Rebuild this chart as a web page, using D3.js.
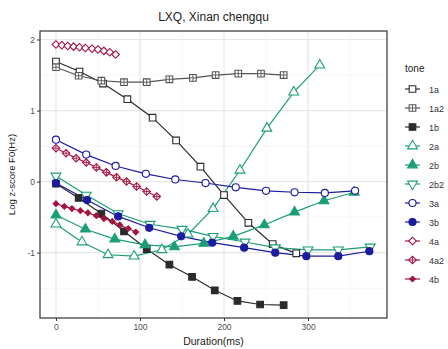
<!DOCTYPE html>
<html>
<head>
<meta charset="utf-8">
<script src="https://cdn.jsdelivr.net/npm/d3@7"></script>
<style>
  body { margin: 0; background: #fff; }
  text { font-family: "Liberation Sans", Arial, sans-serif; }
</style>
</head>
<body>
<div id="chart"></div>
<script>
// chart data
var tones = ['1a', '1a2', '1b', '2a', '2b', '2b2', '3a', '3b', '4a', '4a2', '4b'];

var dur1a  = [0, 28, 56, 85, 115, 143, 172, 200, 229, 258, 286];
var f01a   = [1.69, 1.55, 1.38, 1.16, 0.90, 0.58, 0.21, -0.19, -0.58, -0.88, -1.01];
var dur1a2 = [0, 27, 54, 81, 108, 135, 163, 190, 217, 244, 271];
var f01a2  = [1.61, 1.49, 1.42, 1.40, 1.40, 1.44, 1.46, 1.50, 1.52, 1.52, 1.50];
var dur1b  = [0, 27, 54, 81, 108, 135, 162, 189, 216, 243, 271];
var f01b   = [-0.03, -0.23, -0.45, -0.70, -0.95, -1.17, -1.34, -1.53, -1.68, -1.73, -1.74];
var dur2a  = [0, 31, 62, 93, 126, 157, 187, 219, 251, 283, 314];
var f02a   = [-0.60, -0.85, -1.03, -1.05, -0.96, -0.74, -0.38, 0.16, 0.75, 1.26, 1.64];
var dur2b  = [0, 35, 70, 106, 141, 176, 211, 248, 284, 319, 355];
var f02b   = [-0.47, -0.67, -0.81, -0.89, -0.92, -0.87, -0.77, -0.61, -0.43, -0.27, -0.15];
var dur2b2 = [0, 36, 74, 112, 150, 187, 225, 261, 300, 336, 374];
var f02b2  = [0.08, -0.19, -0.45, -0.60, -0.67, -0.77, -0.85, -0.93, -0.96, -0.96, -0.92];
var dur3a  = [0, 36, 71, 107, 142, 178, 214, 250, 284, 320, 356];
var f03a   = [0.59, 0.38, 0.22, 0.11, 0.03, -0.02, -0.08, -0.13, -0.15, -0.16, -0.13];
var dur3b  = [0, 37, 74, 111, 149, 186, 224, 261, 298, 336, 373];
var f03b   = [-0.02, -0.26, -0.49, -0.65, -0.77, -0.86, -0.93, -1.00, -1.05, -1.05, -0.98];
var dur4a  = [0, 7, 14, 21, 28, 35, 43, 50, 57, 64, 71];
var f04a   = [1.93, 1.92, 1.91, 1.90, 1.89, 1.88, 1.87, 1.86, 1.84, 1.82, 1.79];
var dur4a2 = [0, 12, 24, 36, 48, 60, 72, 84, 96, 108, 120];
var f04a2  = [0.47, 0.40, 0.33, 0.27, 0.20, 0.13, 0.06, 0.00, -0.07, -0.14, -0.21];
var dur4b  = [0, 10, 19, 29, 38, 48, 57, 67, 76, 86, 95];
var f04b   = [-0.31, -0.35, -0.38, -0.41, -0.44, -0.48, -0.52, -0.56, -0.61, -0.66, -0.71];

var xTicks = [0, 100, 200, 300];
var yTicks = [-1, 0, 1, 2];

// styling per tone
var black = '#2b2b2b', grey = '#555555', green = '#1b9e77', blue = '#1c1ca0', red = '#a3143f';
var style = {
  '1a':  {color: black, shape: 'square', fill: false},
  '1a2': {color: grey,  shape: 'squareplus', fill: false},
  '1b':  {color: black, shape: 'square', fill: true},
  '2a':  {color: green, shape: 'triangle', fill: false},
  '2b':  {color: green, shape: 'triangle', fill: true},
  '2b2': {color: green, shape: 'triangledown', fill: false},
  '3a':  {color: blue,  shape: 'circle', fill: false},
  '3b':  {color: blue,  shape: 'circle', fill: true},
  '4a':  {color: red,   shape: 'diamond', fill: false},
  '4a2': {color: red,   shape: 'diamondplus', fill: false},
  '4b':  {color: red,   shape: 'diamondsmall', fill: true}
};
var durs = [dur1a, dur1a2, dur1b, dur2a, dur2b, dur2b2, dur3a, dur3b, dur4a, dur4a2, dur4b];
var f0s  = [f01a, f01a2, f01b, f02a, f02b, f02b2, f03a, f03b, f04a, f04a2, f04b];

var series = tones.map(function(t, i){
  return {tone: t, pts: durs[i].map(function(d, j){ return {x: d, y: f0s[i][j]}; })};
});

// layout (panel edges)
var width = 448, height = 349;
var panelL = 40, panelR = 387, panelT = 31, panelB = 318;

var x = d3.scaleLinear().domain([-19, 394]).range([panelL, panelR]);
var y = d3.scaleLinear().domain([-1.92, 2.12]).range([panelB, panelT]);

var svg = d3.select('#chart').append('svg')
    .attr('width', width)
    .attr('height', height);

// grid
var grid = svg.append('g');
grid.selectAll('.minx').data([50, 150, 250, 350]).enter().append('line')
    .attr('x1', function(d){ return x(d); }).attr('x2', function(d){ return x(d); })
    .attr('y1', panelT).attr('y2', panelB)
    .attr('stroke', '#f2f2f2').attr('stroke-width', 0.7);
grid.selectAll('.miny').data([-1.5, -0.5, 0.5, 1.5]).enter().append('line')
    .attr('y1', function(d){ return y(d); }).attr('y2', function(d){ return y(d); })
    .attr('x1', panelL).attr('x2', panelR)
    .attr('stroke', '#f2f2f2').attr('stroke-width', 0.7);
grid.selectAll('.majx').data(xTicks).enter().append('line')
    .attr('x1', function(d){ return x(d); }).attr('x2', function(d){ return x(d); })
    .attr('y1', panelT).attr('y2', panelB)
    .attr('stroke', '#e6e6e6').attr('stroke-width', 1.2);
grid.selectAll('.majy').data(yTicks).enter().append('line')
    .attr('y1', function(d){ return y(d); }).attr('y2', function(d){ return y(d); })
    .attr('x1', panelL).attr('x2', panelR)
    .attr('stroke', '#e6e6e6').attr('stroke-width', 1.2);

// axes
var xAxis = d3.axisBottom(x).tickValues(xTicks).tickSize(3).tickPadding(3)
    .tickFormat(function(d){ return String(d); });
var yAxis = d3.axisLeft(y).tickValues(yTicks).tickSize(3).tickPadding(2)
    .tickFormat(function(d){ return String(d); });

var gx = svg.append('g').attr('transform', 'translate(0,' + panelB + ')').call(xAxis);
var gy = svg.append('g').attr('transform', 'translate(' + panelL + ',0)').call(yAxis);
[gx, gy].forEach(function(g){
  g.select('.domain').remove();
  g.selectAll('line').attr('stroke', '#333');
  g.selectAll('text').attr('fill', '#4d4d4d').style('font-size', '8.5px');
});

// lines
var line = d3.line().x(function(d){ return x(d.x); }).y(function(d){ return y(d.y); });
svg.append('g').selectAll('path').data(series).enter().append('path')
    .attr('d', function(d){ return line(d.pts); })
    .attr('fill', 'none')
    .attr('stroke', function(d){ return style[d.tone].color; })
    .attr('stroke-width', 1.2);

// point symbols
function drawSymbol(g, tone, cx, cy){
  var s = style[tone];
  var fill = s.fill ? s.color : '#fff';
  var el;
  if(s.shape == 'square' || s.shape == 'squareplus'){
    el = g.append('path').attr('d', d3.symbol(d3.symbolSquare, 44)())
        .attr('transform', 'translate(' + cx + ',' + cy + ')');
  } else if(s.shape == 'triangle' || s.shape == 'triangledown'){
    el = g.append('path').attr('d', d3.symbol(d3.symbolTriangle, 42)())
        .attr('transform', 'translate(' + cx + ',' + cy + ')' + (s.shape == 'triangledown' ? ' rotate(180)' : ''));
  } else if(s.shape == 'circle'){
    el = g.append('path').attr('d', d3.symbol(d3.symbolCircle, 40)())
        .attr('transform', 'translate(' + cx + ',' + cy + ')');
  } else {
    var sz = s.shape == 'diamondsmall' ? 16 : 28;
    el = g.append('path').attr('d', d3.symbol(d3.symbolSquare, sz)())
        .attr('transform', 'translate(' + cx + ',' + cy + ') rotate(45)');
  }
  el.attr('fill', fill).attr('stroke', s.color).attr('stroke-width', 1.1);
  if(s.shape == 'squareplus' || s.shape == 'diamondplus'){
    var h = s.shape == 'squareplus' ? 3.3 : 3.6;
    g.append('path')
        .attr('d', 'M' + (cx - h) + ',' + cy + 'H' + (cx + h) + 'M' + cx + ',' + (cy - h) + 'V' + (cy + h))
        .attr('stroke', s.color).attr('stroke-width', 0.9);
  }
}

var pts = svg.append('g');
series.forEach(function(sr){
  sr.pts.forEach(function(p){ drawSymbol(pts, sr.tone, x(p.x), y(p.y)); });
});

// panel border
svg.append('rect')
    .attr('x', panelL).attr('y', panelT)
    .attr('width', panelR - panelL).attr('height', panelB - panelT)
    .attr('fill', 'none').attr('stroke', '#333').attr('stroke-width', 1.2);

// titles
svg.append('text')
    .attr('x', (panelL + panelR) / 2).attr('y', 21)
    .attr('text-anchor', 'middle')
    .style('font-size', '12px').attr('fill', '#222')
    .text('LXQ, Xinan chengqu');
svg.append('text')
    .attr('x', (panelL + panelR) / 2).attr('y', 345)
    .attr('text-anchor', 'middle')
    .style('font-size', '10.5px').attr('fill', '#222')
    .text('Duration(ms)');
svg.append('text')
    .attr('transform', 'translate(15,' + ((panelT + panelB) / 2) + ') rotate(-90)')
    .attr('text-anchor', 'middle')
    .style('font-size', '9.5px').attr('fill', '#222')
    .text('Log z-score F0(Hz)');

// legend
var legend = svg.append('g');
legend.append('text')
    .attr('x', 405).attr('y', 72)
    .style('font-size', '10px').attr('fill', '#222')
    .text('tone');
tones.forEach(function(t, i){
  var ly = 89 + i * 19;
  legend.append('line')
      .attr('x1', 405).attr('x2', 420).attr('y1', ly).attr('y2', ly)
      .attr('stroke', style[t].color).attr('stroke-width', 1.2);
  drawSymbol(legend, t, 412.5, ly);
  legend.append('text')
      .attr('x', 429).attr('y', ly + 3.5)
      .style('font-size', '9px').attr('fill', '#333')
      .text(t);
});
</script>
</body>
</html>
